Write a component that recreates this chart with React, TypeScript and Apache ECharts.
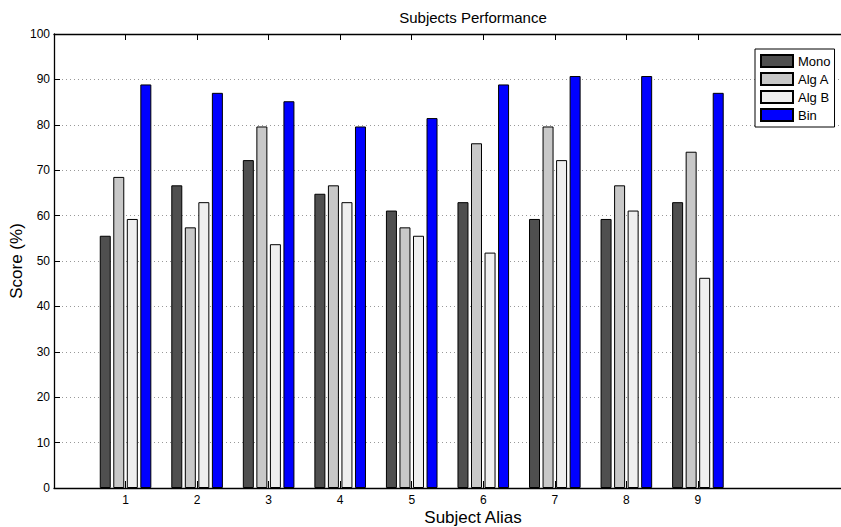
import React, { useEffect, useRef } from "react";
import * as echarts from "echarts";

// Subject aliases on the x axis
const subjects = [1, 2, 3, 4, 5, 6, 7, 8, 9];

// Scores (%) per method
const monoScores = [55.56, 66.67, 72.22, 64.81, 61.11, 62.96, 59.26, 59.26, 62.96];
const algAScores = [68.52, 57.41, 79.63, 66.67, 57.41, 75.93, 79.63, 66.67, 74.07];
const algBScores = [59.26, 62.96, 53.7, 62.96, 55.56, 51.85, 72.22, 61.11, 46.3];
const binScores = [88.89, 87.04, 85.19, 79.63, 81.48, 88.89, 90.74, 90.74, 87.04];

const seriesNames = ["Mono", "Alg A", "Alg B", "Bin"];
const seriesColors = ["#4f4f4f", "#c8c8c8", "#efefef", "#0000ff"];

const chartTitle = "Subjects Performance";
const xAxisTitle = "Subject Alias";
const yAxisTitle = "Score (%)";

const FONT = "'Liberation Sans', Arial, Helvetica, sans-serif";

export default function App() {
  const ref = useRef<HTMLDivElement>(null);

  useEffect(() => {
    if (!ref.current) return;
    const chart = echarts.init(ref.current, undefined, { renderer: "svg" });

    const all = [monoScores, algAScores, algBScores, binScores];
    const series = all.map((vals, k) => ({
      name: seriesNames[k],
      type: "bar" as const,
      data: subjects.map((s, i) => [s, vals[i]]),
      barWidth: 11,
      barGap: "23%",
      itemStyle: {
        color: seriesColors[k],
        borderColor: "#000",
        borderWidth: 1,
      },
      emphasis: { disabled: true },
    }));

    const axisLine = { show: true, lineStyle: { color: "#000", width: 1.3 } };

    chart.setOption({
      animation: false,
      textStyle: { fontFamily: FONT },
      grid: { left: 54, top: 34, width: 792, height: 454, containLabel: false },
      legend: {
        data: seriesNames,
        orient: "vertical",
        left: 755,
        top: 49,
        backgroundColor: "#fff",
        borderColor: "#000",
        borderWidth: 1,
        borderRadius: 0,
        padding: [5, 4, 5, 5],
        itemWidth: 32,
        itemHeight: 12,
        itemGap: 4,
        icon: "rect",
        selectedMode: false,
        textStyle: { fontFamily: FONT, fontSize: 13, color: "#000", lineHeight: 12 },
      },
      xAxis: [
        {
          type: "value",
          min: 0,
          max: 11,
          interval: 1,
          position: "bottom",
          axisLine,
          axisTick: { show: true, inside: true, length: 7, customValues: subjects, lineStyle: { color: "#000" } },
          axisLabel: {
            show: true,
            customValues: subjects,
            margin: 6,
            fontSize: 12,
            color: "#000",
            fontFamily: FONT,
          },
          splitLine: { show: false },
        },
        {
          type: "value",
          min: 0,
          max: 11,
          interval: 1,
          position: "top",
          axisLine,
          axisTick: { show: true, inside: true, length: 6, customValues: subjects, lineStyle: { color: "#000" } },
          axisLabel: { show: false },
          splitLine: { show: false },
        },
      ],
      yAxis: {
        type: "value",
        min: 0,
        max: 100,
        interval: 10,
        axisLine,
        axisTick: { show: true, inside: true, length: 6, lineStyle: { color: "#000" } },
        axisLabel: { margin: 4, fontSize: 12, color: "#000", fontFamily: FONT },
        splitLine: { show: true, lineStyle: { color: "#999", type: [1, 3], width: 1 } },
      },
      graphic: [
        {
          type: "text",
          x: 473,
          y: 17,
          style: {
            text: chartTitle,
            fontFamily: FONT,
            fontSize: 15,
            fill: "#000",
            align: "center",
            verticalAlign: "middle",
          },
        },
        {
          type: "text",
          x: 473,
          y: 517,
          style: {
            text: xAxisTitle,
            fontFamily: FONT,
            fontSize: 17,
            fill: "#000",
            align: "center",
            verticalAlign: "middle",
          },
        },
        {
          type: "text",
          x: 16,
          y: 261,
          rotation: Math.PI / 2,
          style: {
            text: yAxisTitle,
            fontFamily: FONT,
            fontSize: 17,
            fill: "#000",
            align: "center",
            verticalAlign: "middle",
          },
        },
      ],
      series,
    });

    return () => chart.dispose();
  }, []);

  return (
    <div
      ref={ref}
      style={{ position: "fixed", left: 0, top: 0, width: 841, height: 527, background: "#fff" }}
    />
  );
}
